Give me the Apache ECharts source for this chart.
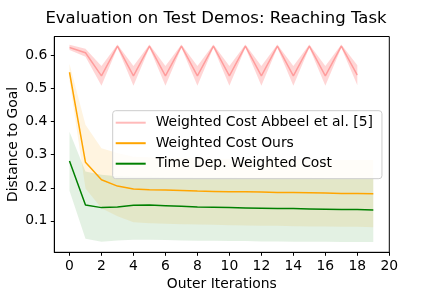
<!DOCTYPE html>
<html><head><meta charset="utf-8">
<script src="https://cdn.jsdelivr.net/npm/echarts@6/dist/echarts.min.js"></script>
<style>html,body{margin:0;padding:0;background:#fff}#c{width:432px;height:288px}</style>
</head><body><div id="c"></div>
<script>
const iterations = [0,1,2,3,4,5,6,7,8,9,10,11,12,13,14,15,16,17,18,19];
const abbeelIter = [0,1,2,3,4,5,6,7,8,9,10,11,12,13,14,15,16,17,18];
const abbeelMean  = [0.624,0.608,0.538,0.628,0.538,0.628,0.538,0.628,0.538,0.628,0.538,0.628,0.538,0.628,0.538,0.628,0.538,0.628,0.540];
const abbeelUpper = [0.632,0.620,0.568,0.633,0.568,0.633,0.568,0.633,0.568,0.633,0.568,0.633,0.568,0.633,0.568,0.633,0.568,0.633,0.570];
const abbeelLower = [0.616,0.596,0.508,0.623,0.508,0.623,0.508,0.623,0.508,0.623,0.508,0.623,0.508,0.623,0.508,0.623,0.508,0.623,0.510];
const oursMean  = [0.549,0.277,0.224,0.205,0.196,0.194,0.193,0.192,0.190,0.189,0.188,0.188,0.187,0.186,0.186,0.185,0.184,0.183,0.183,0.182];
const oursUpper = [0.574,0.390,0.319,0.305,0.294,0.292,0.291,0.290,0.289,0.288,0.288,0.287,0.287,0.286,0.286,0.285,0.285,0.284,0.284,0.284];
const oursLower = [0.525,0.198,0.138,0.114,0.096,0.093,0.091,0.090,0.089,0.088,0.087,0.086,0.085,0.085,0.084,0.083,0.083,0.082,0.082,0.081];
const timeMean  = [0.281,0.148,0.140,0.142,0.147,0.148,0.146,0.144,0.142,0.141,0.140,0.139,0.138,0.137,0.137,0.136,0.135,0.134,0.134,0.133];
const timeUpper = [0.369,0.249,0.239,0.235,0.233,0.233,0.232,0.232,0.231,0.231,0.231,0.230,0.230,0.230,0.230,0.230,0.229,0.229,0.229,0.229];
const timeLower = [0.191,0.046,0.037,0.041,0.043,0.043,0.042,0.041,0.040,0.040,0.039,0.039,0.038,0.038,0.037,0.037,0.037,0.036,0.036,0.036];
const xTicks = [0,2,4,6,8,10,12,14,16,18,20];
const yTicks = [0.1,0.2,0.3,0.4,0.5,0.6];
const names = ['Weighted Cost Abbeel et al. [5]','Weighted Cost Ours','Time Dep. Weighted Cost'];

const FONT = 'DejaVu Sans';
const FS = 13.9;
function band(xs, lo, hi, color) {
  const data = xs.map((x,i)=>[x, lo[i], hi[i]]);
  return {
    type: 'custom', silent: true, z: 1,
    data: data,
    encode: {x: 0, y: [1,2]},
    renderItem: function(params, api) {
      if (params.dataIndex !== 0) return;
      const pts = [];
      for (let i = 0; i < data.length; i++) pts.push(api.coord([data[i][0], data[i][2]]));
      for (let i = data.length-1; i >= 0; i--) pts.push(api.coord([data[i][0], data[i][1]]));
      return {type: 'polygon', shape: {points: pts}, style: {fill: color, stroke: null}};
    }
  };
}
function line(name, xs, ys, color) {
  return {
    name: name, type: 'line', z: 3, symbol: 'none', showSymbol: false,
    data: xs.map((x,i)=>[x, ys[i]]),
    lineStyle: {color: color, width: 1.5},
    itemStyle: {color: color}
  };
}
const chart = echarts.init(document.getElementById('c'), null, {renderer: 'canvas'});
chart.setOption({
  animation: false,
  textStyle: {fontFamily: FONT},
  title: {text: 'Evaluation on Test Demos: Reaching Task', left: 'center', top: 10, padding: 0,
    textStyle: {fontFamily: FONT, fontSize: 16.5, fontWeight: 'normal', color: '#000'}},
  grid: {left: 54.3, right: 42.7, top: 36.5, bottom: 35.7, show: true, borderColor: '#000', borderWidth: 1,
    containLabel: false, outerBoundsMode: 'none'},
  legend: {
    data: names, orient: 'vertical', left: 112.7, top: 110.7,
    icon: 'rect', itemWidth: 30, itemHeight: 2, itemGap: 4.5,
    padding: [4, 9, 7, 3],
    backgroundColor: 'rgba(255,255,255,0.8)', borderColor: '#cccccc', borderWidth: 1, borderRadius: 3,
    textStyle: {fontFamily: FONT, fontSize: FS, color: '#000', lineHeight: 16, padding: [0,0,0,5]}
  },
  xAxis: {
    type: 'value', min: -0.95, max: 20,
    name: 'Outer Iterations', nameLocation: 'middle', nameGap: 25, nameMoveOverlap: false,
    nameTextStyle: {fontFamily: FONT, fontSize: FS, color: '#000'},
    axisLine: {show: true, onZero: false, lineStyle: {color: '#000', width: 1}},
    axisTick: {show: true, length: 3.5, lineStyle: {color: '#000'}, customValues: xTicks},
    axisLabel: {color: '#000', fontFamily: FONT, fontSize: FS, margin: 7, customValues: xTicks},
    splitLine: {show: false}
  },
  yAxis: {
    type: 'value', min: 0.005, max: 0.657,
    name: 'Distance to Goal', nameLocation: 'middle', nameGap: 33.5, nameMoveOverlap: false,
    nameTextStyle: {fontFamily: FONT, fontSize: FS, color: '#000'},
    axisLine: {show: true, onZero: false, lineStyle: {color: '#000', width: 1}},
    axisTick: {show: true, length: 3.5, lineStyle: {color: '#000'}, customValues: yTicks},
    axisLabel: {color: '#000', fontFamily: FONT, fontSize: FS, margin: 7, customValues: yTicks,
      formatter: v => v.toFixed(1)},
    splitLine: {show: false}
  },
  series: [
    band(abbeelIter, abbeelLower, abbeelUpper, 'rgba(255,0,0,0.16)'),
    band(iterations, oursLower, oursUpper, 'rgba(255,165,0,0.12)'),
    band(iterations, timeLower, timeUpper, 'rgba(0,128,0,0.11)'),
    line(names[0], abbeelIter, abbeelMean, 'rgba(255,0,0,0.27)'),
    line(names[1], iterations, oursMean, '#ffa500'),
    line(names[2], iterations, timeMean, '#008000')
  ]
});
</script></body></html>
